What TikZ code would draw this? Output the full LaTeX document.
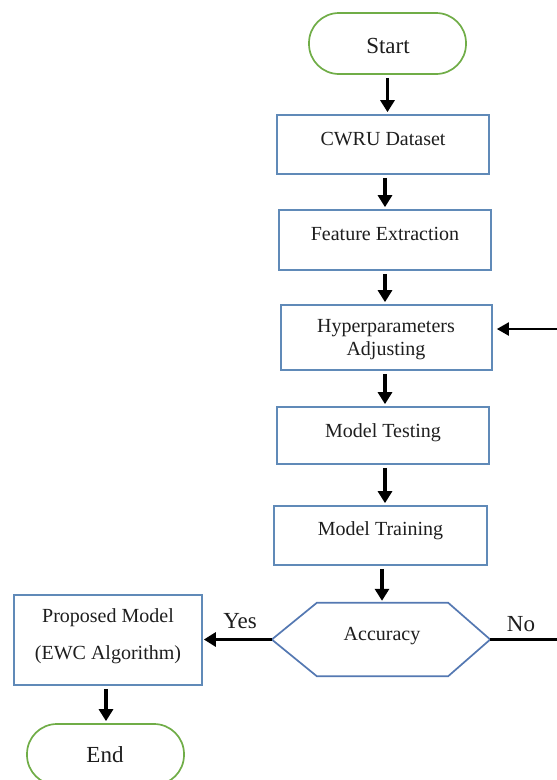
\documentclass[tikz,border=0pt]{standalone}
\usepackage{fontspec}
\setmainfont{Liberation Serif}
\usetikzlibrary{arrows.meta,calc}
\definecolor{boxblue}{RGB}{96,138,184}
\definecolor{hexblue}{RGB}{84,120,178}
\definecolor{termgreen}{RGB}{112,173,71}
\definecolor{txt}{RGB}{30,30,30}
\begin{document}
\begin{tikzpicture}[x=1pt,y=-1pt,
  box/.style={draw=boxblue,line width=1.7pt,rectangle,inner sep=0pt},
  term/.style={draw=termgreen,line width=1.7pt,rectangle,rounded corners=30pt,inner sep=0pt,minimum width=157pt,minimum height=61pt},
  lbl/.style={anchor=base,text=txt,font=\fontsize{20}{23}\selectfont,inner sep=0pt},
  biglbl/.style={anchor=base,text=txt,font=\fontsize{23}{26}\selectfont,inner sep=0pt},
  arr/.style={draw=black,line width=3.2pt,-{Triangle[length=12pt,width=14pt]},shorten <=3pt,shorten >=2pt},
  thinline/.style={draw=black,line width=2.2pt}]
\useasboundingbox (0,0) rectangle (557,780);
\clip (0,0) rectangle (557,780);
\fill[white] (0,0) rectangle (557,780);
% nodes
\node[term] (start) at (387.5,43.5) {};
\node[biglbl] at (388,53) {Start};
\node[box,minimum width=212pt,minimum height=59pt] (cwru) at (383,144.5) {};
\node[lbl] at (383,145) {CWRU Dataset};
\node[box,minimum width=212pt,minimum height=60pt] (feat) at (385,240) {};
\node[lbl] at (385,240) {Feature Extraction};
\node[box,minimum width=211pt,minimum height=65pt] (hyper) at (386.5,337.5) {};
\node[lbl] at (386,332) {Hyperparameters};
\node[lbl] at (386,355) {Adjusting};
\node[box,minimum width=212pt,minimum height=57pt] (test) at (383,435.5) {};
\node[lbl] at (383,437) {Model Testing};
\node[box,minimum width=213pt,minimum height=59pt] (train) at (380.5,535.5) {};
\node[lbl] at (380.5,535) {Model Training};
\node[rectangle,minimum width=218pt,minimum height=73pt,inner sep=0pt] (hex) at (381,639.5) {};
\draw[draw=hexblue,line width=1.7pt,line join=miter]
  (hex.west) -- ([xshift=45pt]hex.north west) -- ([xshift=-42pt]hex.north east)
  -- (hex.east) -- ([xshift=-42pt]hex.south east) -- ([xshift=45pt]hex.south west) -- cycle;
\node[lbl] at (382,640) {Accuracy};
\node[box,minimum width=188pt,minimum height=90pt] (prop) at (108,640) {};
\node[lbl] at (108,622) {Proposed Model};
\node[lbl] at (108,659) {(EWC Algorithm)};
\node[term] (end) at (105.5,754.5) {};
\node[biglbl] at (105,762) {End};
\node[biglbl] at (240,628) {Yes};
\node[biglbl] at (521,631) {No};
% connectors
\draw[arr] (start.south) -- (start.south |- cwru.north);
\draw[arr] ([xshift=2pt]cwru.south) -- ([xshift=2pt]cwru.south |- feat.north);
\draw[arr] (feat.south) -- (feat.south |- hyper.north);
\draw[arr] ([xshift=-1.5pt]hyper.south) -- ([xshift=-1.5pt]hyper.south |- test.north);
\draw[arr] ([xshift=2pt]test.south) -- ([xshift=2pt]test.south |- train.north);
\draw[arr] ([xshift=1.5pt]train.south) -- ([xshift=1.5pt]train.south |- hex.north);
\draw[arr,shorten <=0pt,shorten >=1pt] (hex.west) -- (prop.east |- hex.west);
\draw[arr] ([xshift=-2pt]prop.south) -- ([xshift=-2pt]prop.south |- end.north);
\draw[thinline,-{Triangle[length=12pt,width=13pt]},shorten >=4pt]
  (hex.east) -- (575,639.5) |- ([yshift=8.5pt]hyper.east);
\end{tikzpicture}
\end{document}
